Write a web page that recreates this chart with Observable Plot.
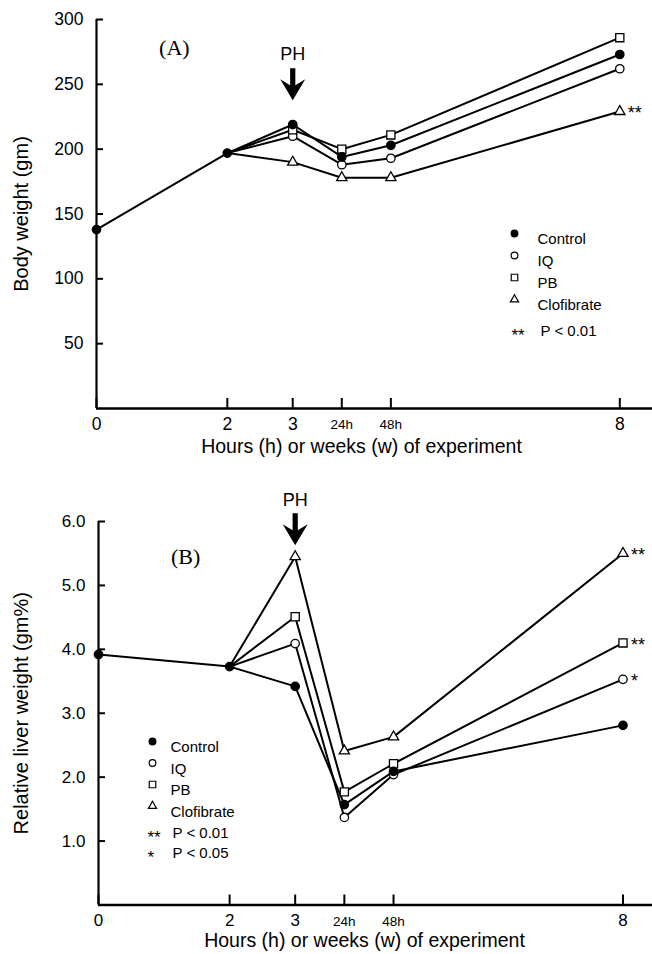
<!DOCTYPE html>
<html><head><meta charset="utf-8">
<script src="https://cdn.jsdelivr.net/npm/d3@7"></script>
<script src="https://cdn.jsdelivr.net/npm/@observablehq/plot@0.6"></script>
<style>
html,body{margin:0;padding:0;background:#fff;}
#chart{width:652px;}
#chart svg{display:block;overflow:visible;}
</style></head><body><div id="chart"></div>
<script>
// ---- shared x categories (positions on the x axis) ----
const xPositions = [0, 2, 3, 3.75, 4.5, 8];
const xTickLabels = ["0", "2", "3", "24h", "48h", "8"];
const seriesNames = ["Control", "IQ", "PB", "Clofibrate"];

// ---- (A) body weight (gm) ----
const bodyBaseline = [138, 197];            // at x = 0, 2 (all groups)
const bodyControl = [219, 194, 203, 273];   // at x = 3, 24h, 48h, 8
const bodyIQ = [210, 188, 193, 262];
const bodyPB = [215, 200, 211, 286];
const bodyClofibrate = [190, 178, 178, 229];
const bodyYTicks = [50, 100, 150, 200, 250, 300];
const bodySignificance = [{series: "Clofibrate", mark: "**"}];
const bodyNotes = [{stars: "**", text: "P < 0.01"}];

// ---- (B) relative liver weight (gm%) ----
const liverBaseline = [3.92, 3.73];
const liverControl = [3.42, 1.57, 2.09, 2.81];
const liverIQ = [4.09, 1.37, 2.04, 3.53];
const liverPB = [4.51, 1.77, 2.21, 4.10];
const liverClofibrate = [5.45, 2.41, 2.63, 5.50];
const liverYTicks = [1, 2, 3, 4, 5, 6];
const liverSignificance = [{series: "Clofibrate", mark: "**"}, {series: "PB", mark: "**"}, {series: "IQ", mark: "*"}];
const liverNotes = [{stars: "**", text: "P < 0.01"}, {stars: "*", text: "P < 0.05"}];

// ---- styles ----
const seriesStyle = {
  Control: {symbol: "circle", fill: "black", r: 4.2},
  IQ: {symbol: "circle", fill: "white", r: 4.2},
  PB: {symbol: "square", fill: "white", r: 4.6},
  Clofibrate: {symbol: "triangle", fill: "white", r: 3.8}
};
const SANS = "Liberation Sans, Arial, Helvetica, sans-serif";
const SERIF = "Liberation Serif, Times New Roman, serif";

// bold down-arrow as a custom symbol
const arrowSymbol = {
  draw(ctx, size) {
    const k = Math.sqrt(size / Math.PI) / 16;
    const pts = [[-2.6, -16], [2.6, -16], [2.6, 1], [12.5, -5], [0, 16], [-12.5, -5], [-2.6, 1]];
    ctx.moveTo(pts[0][0] * k, pts[0][1] * k);
    for (let i = 1; i < pts.length; i++) ctx.lineTo(pts[i][0] * k, pts[i][1] * k);
    ctx.closePath();
  }
};

function buildRows(baseline, groups) {
  const rows = [];
  for (const name of seriesNames) {
    const vals = groups[name];
    const isControl = name === "Control";
    // control carries the shared baseline from x=0; others start at x=2
    if (isControl) rows.push({series: name, x: xPositions[0], y: baseline[0], marker: true});
    rows.push({series: name, x: xPositions[1], y: baseline[1], marker: isControl});
    vals.forEach((v, i) => rows.push({series: name, x: xPositions[i + 2], y: v, marker: true}));
  }
  return rows;
}

function makeChart(cfg) {
  const rows = buildRows(cfg.baseline, cfg.groups);
  const labelOf = new Map(xPositions.map((p, i) => [p, xTickLabels[i]]));
  const bigTicks = xPositions.filter((p, i) => !xTickLabels[i].endsWith("h"));
  const smallTicks = xPositions.filter((p, i) => xTickLabels[i].endsWith("h"));
  const lastX = xPositions[xPositions.length - 1];
  const sigRows = cfg.significance.map(s => ({...s, x: lastX, y: cfg.groups[s.series][3]}));

  const dotMarks = ["Clofibrate", "IQ", "PB", "Control"].map(name =>
    Plot.dot(rows.filter(d => d.series === name && d.marker), {
      x: "x", y: "y", symbol: seriesStyle[name].symbol, r: seriesStyle[name].r,
      fill: seriesStyle[name].fill, stroke: "black", strokeWidth: 1.3
    }));

  const legendMarks = [];
  seriesNames.forEach((name, i) => {
    legendMarks.push(Plot.dot([name], {
      frameAnchor: "top-left", dx: cfg.legend.markerDx, dy: cfg.legend.dy + i * cfg.legend.step,
      symbol: seriesStyle[name].symbol, r: seriesStyle[name].r * 0.8,
      fill: seriesStyle[name].fill, stroke: "black", strokeWidth: 1.2
    }));
    legendMarks.push(Plot.text([name], {
      frameAnchor: "top-left", dx: cfg.legend.textDx, dy: cfg.legend.dy + i * cfg.legend.step,
      text: d => d, textAnchor: "start", fontSize: 15, fontFamily: SANS
    }));
  });
  cfg.notes.forEach((n, j) => {
    const dy = cfg.legend.noteDy + j * cfg.legend.noteStep;
    legendMarks.push(Plot.text([n], {frameAnchor: "top-left", dx: cfg.legend.starDx, dy: dy + 3,
      text: d => d.stars, textAnchor: "start", fontSize: 17, fontFamily: SANS}));
    legendMarks.push(Plot.text([n], {frameAnchor: "top-left", dx: cfg.legend.noteTextDx, dy,
      text: d => d.text, textAnchor: "start", fontSize: 15, fontFamily: SANS}));
  });

  return Plot.plot({
    width: 652, height: cfg.height,
    marginTop: cfg.marginTop, marginBottom: cfg.marginBottom,
    marginLeft: cfg.marginLeft, marginRight: 0,
    style: {fontFamily: SANS, background: "white", color: "black"},
    x: {domain: [0, cfg.xMax]},
    y: {domain: [0, cfg.yMax]},
    marks: [
      Plot.axisY(cfg.yTicks, {tickSize: -7, tickPadding: 20, fontSize: cfg.tickFont, strokeWidth: 2,
        tickFormat: cfg.yFormat, label: null}),
      Plot.axisX(bigTicks, {tickSize: -10, tickPadding: 19, fontSize: cfg.tickFont, strokeWidth: 2,
        tickFormat: d => labelOf.get(d), label: null}),
      Plot.axisX(smallTicks, {tickSize: -10, tickPadding: 21, fontSize: 13.5, strokeWidth: 2,
        tickFormat: d => labelOf.get(d), label: null}),
      Plot.ruleX([0], {strokeWidth: 2.2}),
      Plot.ruleY([0], {strokeWidth: 2.4}),
      Plot.line(rows, {x: "x", y: "y", z: "series", stroke: "black", strokeWidth: 2}),
      ...dotMarks,
      Plot.text(sigRows, {x: "x", y: "y", text: "mark", dx: 8, dy: 2, textAnchor: "start", fontSize: 18, fontFamily: SANS}),
      Plot.text([cfg.panel], {x: "x", y: "y", text: "label", fontSize: 22, fontFamily: SERIF}),
      Plot.text([cfg.ph], {x: "x", y: "y", text: "label", fontSize: 18, fontFamily: SANS}),
      Plot.dot([cfg.arrow], {x: "x", y: "y", symbol: arrowSymbol, r: 16, fill: "black", stroke: "none"}),
      Plot.text([cfg.yLabel], {frameAnchor: "left", dx: cfg.yLabelDx, rotate: -90, text: d => d,
        textAnchor: "middle", fontSize: 20, fontFamily: SANS}),
      Plot.text([cfg.xLabel], {frameAnchor: "bottom", dx: cfg.xLabelDx, dy: cfg.xLabelDy, text: d => d,
        fontSize: 19.5, fontFamily: SANS}),
      ...legendMarks
    ]
  });
}

const chartA = makeChart({
  height: 477, marginTop: 19, marginBottom: 69, marginLeft: 96, xMax: 8.5, yMax: 300,
  baseline: bodyBaseline,
  groups: {Control: bodyControl, IQ: bodyIQ, PB: bodyPB, Clofibrate: bodyClofibrate},
  yTicks: bodyYTicks, yFormat: d => String(d), tickFont: 17.5,
  significance: bodySignificance, notes: bodyNotes,
  panel: {label: "(A)", x: 1.19, y: 278},
  ph: {label: "PH", x: 3, y: 273.5},
  arrow: {x: 3, y: 250},
  yLabel: "Body weight (gm)", yLabelDx: -75,
  xLabel: "Hours (h) or weeks (w) of experiment", xLabelDx: -13, xLabelDy: 44,
  legend: {markerDx: 418, textDx: 441, dy: 214, step: 22, starDx: 415, noteTextDx: 444, noteDy: 306, noteStep: 20}
});

const chartB = makeChart({
  height: 477, marginTop: 44, marginBottom: 49.5, marginLeft: 98, xMax: 8.45, yMax: 6,
  baseline: liverBaseline,
  groups: {Control: liverControl, IQ: liverIQ, PB: liverPB, Clofibrate: liverClofibrate},
  yTicks: liverYTicks, yFormat: d => d.toFixed(1), tickFont: 17,
  significance: liverSignificance, notes: liverNotes,
  panel: {label: "(B)", x: 1.33, y: 5.44},
  ph: {label: "PH", x: 3, y: 6.33},
  arrow: {x: 3, y: 5.88},
  yLabel: "Relative liver weight (gm%)", yLabelDx: -77,
  xLabel: "Hours (h) or weeks (w) of experiment", xLabelDx: -11, xLabelDy: 42,
  legend: {markerDx: 54, textDx: 72, dy: 220, step: 21.5, starDx: 49, noteTextDx: 74, noteDy: 306, noteStep: 20}
});

document.getElementById("chart").append(chartA, chartB);
</script>
</body></html>
